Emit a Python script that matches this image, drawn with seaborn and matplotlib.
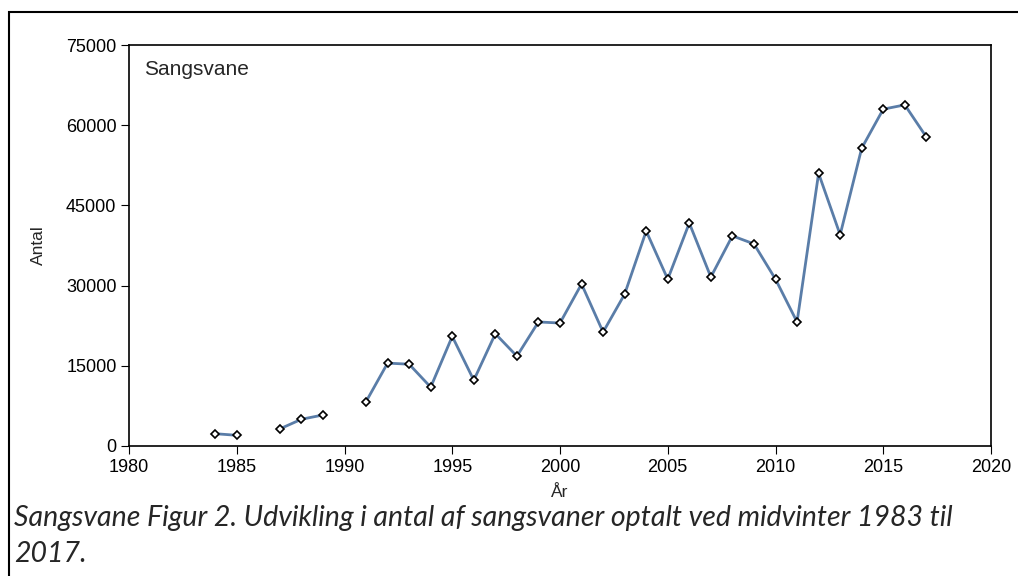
import numpy as np
import pandas as pd
import matplotlib
matplotlib.use("Agg")
import matplotlib.pyplot as plt
import seaborn as sns
from matplotlib.patches import Rectangle

# data (1986 and 1990 missing)
aar = [1984, 1985, 1987, 1988, 1989, 1991, 1992, 1993, 1994, 1995, 1996,
       1997, 1998, 1999, 2000, 2001, 2002, 2003, 2004, 2005, 2006, 2007,
       2008, 2009, 2010, 2011, 2012, 2013, 2014, 2015, 2016, 2017]
antal = [2300, 2000, 3200, 5000, 5800, 8300, 15500, 15300, 11000, 20500, 12300,
         21000, 16800, 23200, 23000, 30300, 21300, 28400, 40200, 31200, 41700, 31600,
         39300, 37800, 31200, 23200, 51000, 39500, 55700, 63000, 63800, 57800]
# sammenhaengende serier (brudt ved manglende aar)
serie = [1, 1, 2, 2, 2] + [3] * 27

x_ticks = list(range(1980, 2021, 5))
y_ticks = list(range(0, 75001, 15000))

df = pd.DataFrame({'Aar': aar, 'Antal': antal, 'serie': serie})

sns.set_style('white')
plt.rcParams['font.family'] = ['Liberation Sans', 'DejaVu Sans']

fig = plt.figure(figsize=(10.18, 5.76), dpi=100)
ax = fig.add_axes([129 / 1018, 1 - 446 / 576, 862 / 1018, 401 / 576])

sns.lineplot(data=df, x='Aar', y='Antal', units='serie', estimator=None,
             color='#5a7da8', linewidth=2, marker='D', markersize=4.5,
             markerfacecolor='white', markeredgecolor='black',
             markeredgewidth=1.2, ax=ax)

ax.set_xlim(1980, 2020)
ax.set_ylim(0, 75000)
ax.set_xticks(x_ticks)
ax.set_yticks(y_ticks)
ax.tick_params(axis='both', direction='out', length=6, width=0.8, pad=3,
               labelsize=13, colors='black', bottom=True, left=True)
for s in ax.spines.values():
    s.set_color('black')
    s.set_linewidth(1.2)
ax.set_xlabel('År', fontsize=12.5, labelpad=7)
ax.set_ylabel('Antal', fontsize=12.5, labelpad=14)
ax.text(0.017, 0.925, 'Sangsvane', transform=ax.transAxes, fontsize=15)

fig.text(14 / 1018, 1 - 526 / 576,
         'Sangsvane Figur 2. Udvikling i antal af sangsvaner optalt ved midvinter 1983 til',
         fontsize=20.5, style='italic', family=['Lato', 'DejaVu Sans'])
fig.text(14 / 1018, 1 - 562 / 576, '2017.',
         fontsize=20.5, style='italic', family=['Lato', 'DejaVu Sans'])

# ydre ramme
fig.patches.append(Rectangle((9 / 1018, -0.05), 1.1, 1 - 12 / 576 + 0.05,
                             transform=fig.transFigure, fill=False,
                             edgecolor='black', linewidth=1.5))

fig.savefig('out.png', dpi=100)
